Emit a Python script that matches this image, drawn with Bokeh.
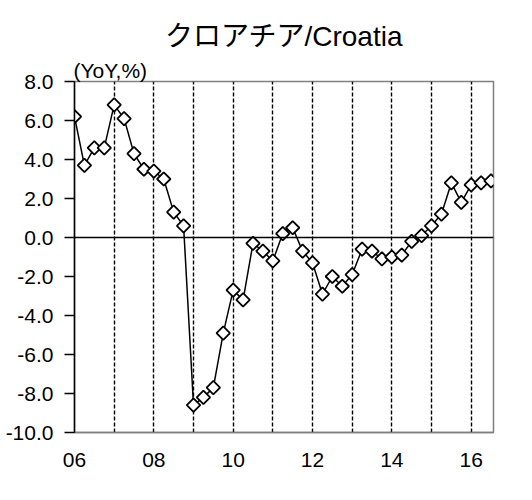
from bokeh.plotting import figure
from bokeh.models import FixedTicker, Range1d, Span, Title, NumeralTickFormatter, ColumnDataSource
from bokeh.embed import file_html
from bokeh.resources import INLINE

# Quarterly YoY %, 2006Q1 .. 2016Q3
years = list(range(2006, 2017))
values = [6.2, 3.7, 4.6, 4.6, 6.8, 6.1, 4.3, 3.5, 3.4, 3.0, 1.3, 0.6,
          -8.6, -8.2, -7.7, -4.9, -2.7, -3.2, -0.3, -0.7, -1.2, 0.2, 0.5, -0.7,
          -1.3, -2.9, -2.0, -2.5, -1.9, -0.6, -0.7, -1.1, -1.0, -0.9, -0.2, 0.1,
          0.6, 1.2, 2.8, 1.8, 2.7, 2.8, 2.9]
quarters = [f"{y}Q{q}" for y in years for q in range(1, 5)][:len(values)]
tick_years = [2006, 2008, 2010, 2012, 2014, 2016]
tick_labels = ["06", "08", "10", "12", "14", "16"]
y_ticks = [-10, -8, -6, -4, -2, 0, 2, 4, 6, 8]

idx = list(range(len(values)))
src = ColumnDataSource(dict(x=idx, y=values, q=quarters))

FONT = "Liberation Sans, Noto Sans CJK JP"

p = figure(width=524, height=492, output_backend="svg", toolbar_location=None,
           x_range=Range1d(0, 42.25), y_range=Range1d(-10, 8),
           min_border_left=74, min_border_right=31, min_border_top=81, min_border_bottom=60)

unit = Title(text="(YoY,%)", align="left", text_font=FONT, text_font_size="21px",
             text_font_style="normal", text_color="black", offset=-1, standoff=0)
p.add_layout(unit, "above")
p.title.text = "クロアチア/Croatia"
p.title.text_font = FONT
p.title.text_font_size = "28px"
p.title.text_font_style = "normal"
p.title.text_color = "black"
p.title.align = "center"

p.background_fill_color = "white"
p.border_fill_color = "white"
p.outline_line_color = "#7f7f7f"
p.outline_line_width = 1.5

# x axis
year_pos = [4 * (y - years[0]) for y in tick_years]
p.xaxis.ticker = FixedTicker(ticks=year_pos)
p.xaxis.major_label_overrides = {pos: lab for pos, lab in zip(year_pos, tick_labels)}
p.xaxis.major_tick_out = 0
p.xaxis.major_tick_in = 0
p.xaxis.minor_tick_out = 0
p.xaxis.minor_tick_in = 0
p.xaxis.axis_line_color = "#7f7f7f"
p.xaxis.axis_line_width = 1.5
p.xaxis.major_label_standoff = 20
p.xaxis.major_label_text_font = FONT
p.xaxis.major_label_text_font_size = "21px"
p.xaxis.major_label_text_color = "black"

# y axis
p.yaxis.ticker = FixedTicker(ticks=y_ticks)
p.yaxis.formatter = NumeralTickFormatter(format="0.0")
p.yaxis.major_tick_out = 10
p.yaxis.major_tick_in = 0
p.yaxis.minor_tick_out = 0
p.yaxis.minor_tick_in = 0
p.yaxis.axis_line_color = "black"
p.yaxis.axis_line_width = 1.5
p.yaxis.major_tick_line_color = "black"
p.yaxis.major_tick_line_width = 1.5
p.yaxis.major_label_standoff = 11
p.yaxis.major_label_text_font = FONT
p.yaxis.major_label_text_font_size = "21px"
p.yaxis.major_label_text_color = "black"

# grid: dashed lines at each year boundary
p.ygrid.visible = False
p.xgrid.ticker = FixedTicker(ticks=[4 * (y - years[0]) for y in years[1:]])
p.xgrid.grid_line_color = "black"
p.xgrid.grid_line_width = 1.4
p.xgrid.grid_line_dash = "4 2"

p.add_layout(Span(location=0, dimension="width", line_color="black", line_width=1.5))

p.line("x", "y", source=src, line_color="black", line_width=1.5)
p.scatter("x", "y", source=src, marker="square", angle=0.785398, size=9.5,
          fill_color="white", line_color="black", line_width=1.8)

open("out.html", "w").write(file_html(p, INLINE))
